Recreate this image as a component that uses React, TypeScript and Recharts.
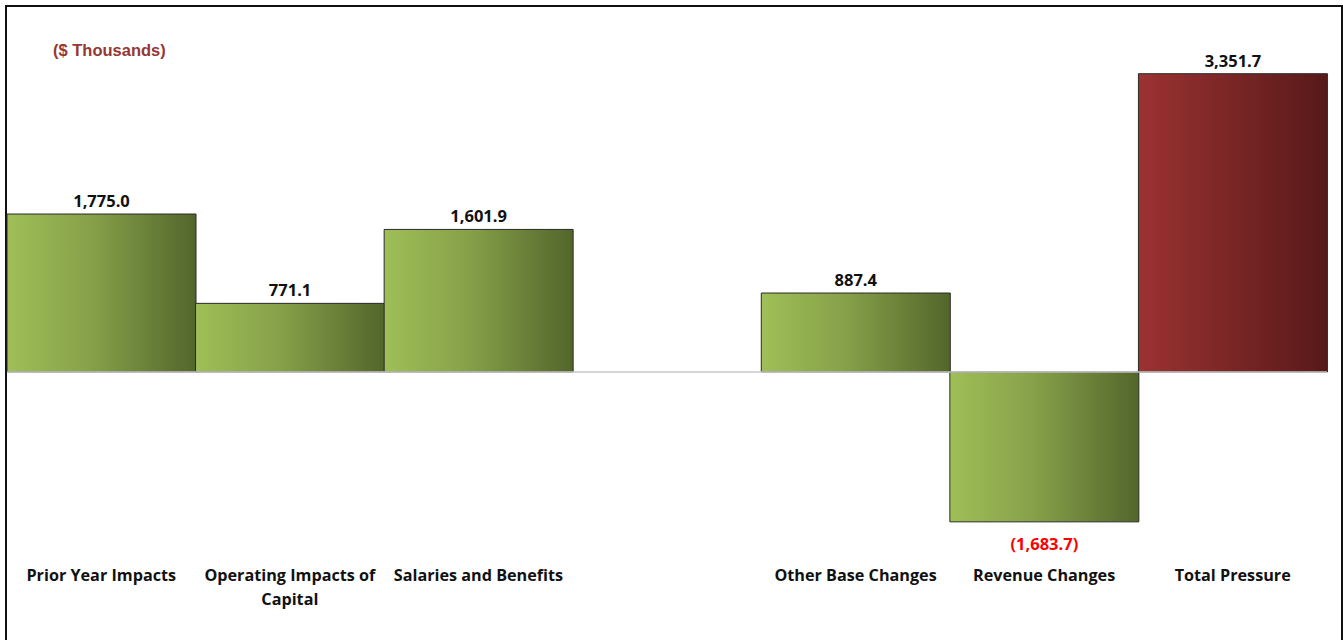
import { BarChart, Bar, XAxis, YAxis, Cell, LabelList, ReferenceLine, Text } from "recharts";

const categories = [
  "Prior Year Impacts",
  "Operating Impacts of Capital",
  "Salaries and Benefits",
  "",
  "Other Base Changes",
  "Revenue Changes",
  "Total Pressure",
];
const values: (number | null)[] = [1775.0, 771.1, 1601.9, null, 887.4, -1683.7, 3351.7];
const totalFlags = [false, false, false, false, false, false, true];

const data = categories.map((name, i) => ({ name, value: values[i], total: totalFlags[i] }));

const FONT = "'Open Sans', Lato, sans-serif";

const fmt = (v: number) => {
  const s = Math.abs(v).toLocaleString("en-US", { minimumFractionDigits: 1, maximumFractionDigits: 1 });
  return v < 0 ? `(${s})` : s;
};

const ValueLabel = (props: any) => {
  const { x, y, width, height, value } = props;
  if (value == null) return null;
  const top = Math.min(y, y + height);
  const bottom = Math.max(y, y + height);
  const cx = x + width / 2;
  if (value < 0) {
    return (
      <text x={cx} y={bottom + 28} textAnchor="middle" fill="#ff0000"
        style={{ fontFamily: FONT, fontSize: 16.5, fontWeight: 700 }}>
        {fmt(value)}
      </text>
    );
  }
  return (
    <text x={cx} y={top - 7} textAnchor="middle" fill="#111"
      style={{ fontFamily: FONT, fontSize: 16.5, fontWeight: 700 }}>
      {fmt(value)}
    </text>
  );
};

const CategoryTick = (props: any) => {
  const { x, payload } = props;
  return (
    <Text x={x} y={569} width={186} textAnchor="middle" verticalAnchor="start"
      lineHeight={24} fill="#111"
      style={{ fontFamily: FONT, fontSize: 16.2, fontWeight: 700 }}>
      {payload.value}
    </Text>
  );
};

export default function App() {
  return (
    <div style={{ position: "absolute", left: 0, top: 0, width: 1343, height: 640, background: "#fff", overflow: "hidden" }}>
      <div style={{
        position: "absolute", left: 5, top: 5, width: 1338, height: 650, boxSizing: "border-box",
        borderLeft: "2px solid #111", borderTop: "2px solid #111", borderRight: "2px solid #111",
      }} />
      <div style={{
        position: "absolute", left: 53, top: 41, color: "#953735",
        fontFamily: "'Liberation Sans', Arial, sans-serif", fontWeight: 700, fontSize: 16.5,
      }}>
        ($ Thousands)
      </div>
      <div style={{ position: "absolute", left: 0, top: 0 }}>
        <BarChart width={1343} height={640} data={data} barCategoryGap={0}
          margin={{ top: 16, right: 16, bottom: 0, left: 7 }}>
          <defs>
            <linearGradient id="greenGrad" x1="0" y1="0" x2="1" y2="0">
              <stop offset="0%" stopColor="#9fbf57" />
              <stop offset="45%" stopColor="#86a049" />
              <stop offset="100%" stopColor="#52662b" />
            </linearGradient>
            <linearGradient id="redGrad" x1="0" y1="0" x2="1" y2="0">
              <stop offset="0%" stopColor="#9c3232" />
              <stop offset="100%" stopColor="#581919" />
            </linearGradient>
          </defs>
          <XAxis dataKey="name" axisLine={false} tickLine={false} tick={<CategoryTick />} interval={0} height={90} />
          <YAxis hide domain={[-2000, 4000]} />
          <ReferenceLine y={0} stroke="#c8c8c8" strokeWidth={1.5} />
          <Bar dataKey="value" isAnimationActive={false} stroke="#2a2a2a" strokeWidth={1}>
            {data.map((d, i) => (
              <Cell key={i} fill={d.total ? "url(#redGrad)" : "url(#greenGrad)"} />
            ))}
            <LabelList dataKey="value" content={<ValueLabel />} />
          </Bar>
        </BarChart>
      </div>
    </div>
  );
}
